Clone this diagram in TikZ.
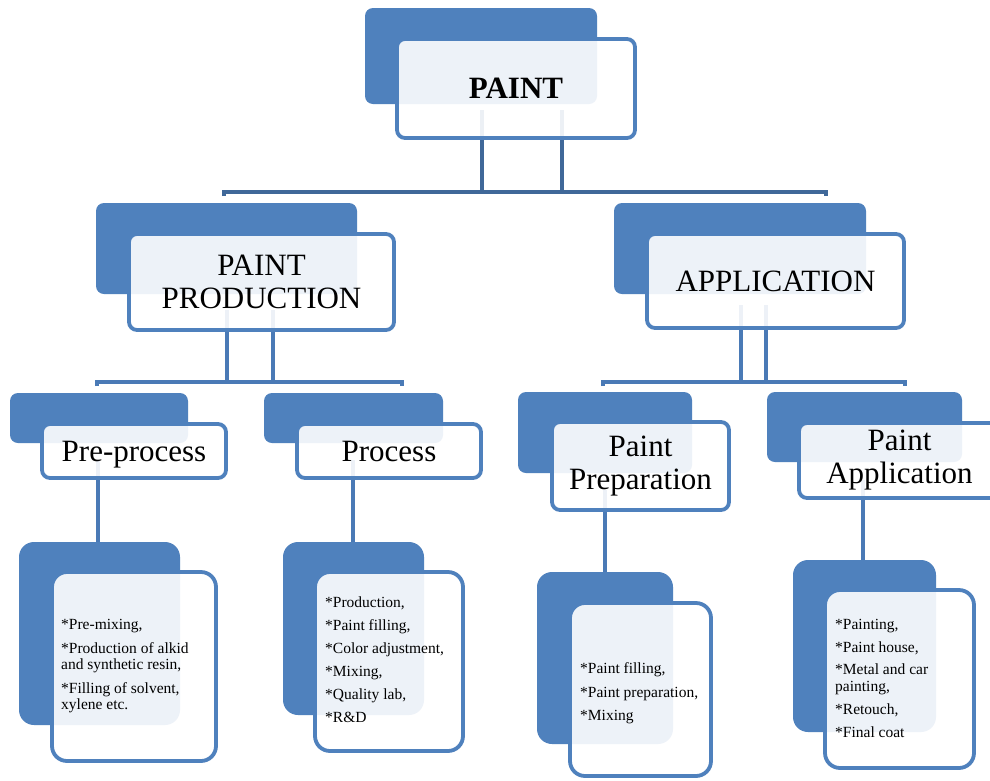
\documentclass[tikz,border=0pt]{standalone}
\usepackage{fontspec}
\setmainfont{Liberation Serif}
\definecolor{sblue}{RGB}{79,129,189}
\definecolor{cdark}{RGB}{64,104,153}
\definecolor{cmid}{RGB}{74,122,182}
\tikzset{
  backbox/.style={fill=sblue, rounded corners=8pt, inner sep=0pt},
  frontbox/.style={draw=sblue, line width=3.8pt, fill=white, fill opacity=0.9, text opacity=1, rounded corners=8pt, inner sep=0pt, align=center},
  bigback/.style={backbox, rounded corners=15pt},
  bigfront/.style={frontbox, rounded corners=15pt},
  toplink/.style={draw=cdark, line width=4.5pt},
  link/.style={draw=cmid, line width=4pt},
  bigtxt/.style={font=\fontsize{31}{33}\selectfont},
  listtxt/.style={font=\fontsize{15.5}{16.5}\selectfont, align=left, anchor=north west, inner sep=0pt}
}
\begin{document}
\begin{tikzpicture}[x=1pt,y=-1pt]
\clip (0,0) rectangle (990,780);
\fill[white] (0,0) rectangle (990,780);
% connectors
\coordinate (c0a) at (482,110); \coordinate (c0b) at (562,110);
\coordinate (h0l) at (224,196); \coordinate (h0r) at (826,196);
\path[toplink] (c0a) -- (482,192) (c0b) -- (562,192);
\path[toplink] (h0l) -- (224,192) -- (826,192) -- (h0r);
\coordinate (c1a) at (227,310); \coordinate (c1b) at (273,310);
\coordinate (h1l) at (97,386); \coordinate (h1r) at (402,386);
\path[link] (c1a) -- (227,382) (c1b) -- (273,382);
\path[link] (h1l) -- (97,382) -- (402,382) -- (h1r);
\coordinate (c2a) at (741,305); \coordinate (c2b) at (766,305);
\coordinate (h2l) at (603,386); \coordinate (h2r) at (905,386);
\path[link] (c2a) -- (741,382) (c2b) -- (766,382);
\path[link] (h2l) -- (603,382) -- (905,382) -- (h2r);
% level 3 to 4 connectors
\coordinate (d1) at (98,460); \coordinate (d2) at (353,460);
\coordinate (d3) at (605,490); \coordinate (d4) at (863,480);
\coordinate (e1) at (98,545); \coordinate (e2) at (353,545);
\coordinate (e3) at (605,575); \coordinate (e4) at (863,563);
\path[link] (d1) -- (e1) (d2) -- (e2) (d3) -- (e3) (d4) -- (e4);
% level 1
\node[backbox, minimum width=232, minimum height=96] (b0) at (481,56) {};
\node[frontbox, minimum width=238, minimum height=99, font=\fontsize{31}{33}\selectfont\bfseries, text depth=0pt] (f0) at (516,88.5) {PAINT};
% level 2
\node[backbox, minimum width=261, minimum height=91] (bPP) at (226.5,248.5) {};
\node[frontbox, bigtxt, minimum width=265, minimum height=96] (fPP) at (261.5,282) {PAINT\\PRODUCTION};
\node[backbox, minimum width=252, minimum height=91] (bAP) at (740,248.5) {};
\node[frontbox, bigtxt, minimum width=257, minimum height=94] (fAP) at (775.5,281) {APPLICATION};
% level 3
\node[backbox, minimum width=178, minimum height=50] (bPre) at (99,418) {};
\node[frontbox, bigtxt, minimum width=184, minimum height=54, text depth=0pt] (fPre) at (134,451) {Pre-process};
\node[backbox, minimum width=179, minimum height=50] (bPro) at (353.5,418) {};
\node[frontbox, bigtxt, minimum width=184, minimum height=54] (fPro) at (389,451) {Process};
\node[backbox, minimum width=174, minimum height=81] (bPPr) at (605,432.5) {};
\node[frontbox, bigtxt, minimum width=177, minimum height=88] (fPPr) at (640.5,466) {Paint\\Preparation};
\node[backbox, minimum width=195, minimum height=70] (bPAp) at (864.5,427) {};
\node[frontbox, bigtxt, minimum width=201, minimum height=75] (fPAp) at (899.5,460.5) {Paint\\Application};
% level 4
\node[bigback, minimum width=161, minimum height=183] (bL1) at (99.5,633.5) {};
\node[bigfront, minimum width=164, minimum height=189] (fL1) at (134,666.5) {};
\node[bigback, minimum width=141, minimum height=173] (bL2) at (353.5,628.5) {};
\node[bigfront, minimum width=148, minimum height=179] (fL2) at (389,661.5) {};
\node[bigback, minimum width=136, minimum height=172] (bL3) at (605,658) {};
\node[bigfront, minimum width=141, minimum height=173] (fL3) at (640.5,689.5) {};
\node[bigback, minimum width=143, minimum height=172] (bL4) at (864.5,646) {};
\node[bigfront, minimum width=149, minimum height=178] (fL4) at (899.5,679) {};
% list texts
\node[listtxt] (t1) at (61,619.5) {*Pre-mixing,\\[7pt]*Production of alkid\\and synthetic resin,\\[7pt]*Filling of solvent,\\xylene etc.};
\node[listtxt] (t2) at (325,596.5) {*Production,\\[6.5pt]*Paint filling,\\[6.5pt]*Color adjustment,\\[6.5pt]*Mixing,\\[6.5pt]*Quality lab,\\[6.5pt]*R\&D};
\node[listtxt] (t3) at (580,662.5) {*Paint filling,\\[7pt]*Paint preparation,\\[7pt]*Mixing};
\node[listtxt] (t4) at (835,619.5) {*Painting,\\[6pt]*Paint house,\\[6pt]*Metal and car\\painting,\\[7pt]*Retouch,\\[6pt]*Final coat};
\end{tikzpicture}
\end{document}
